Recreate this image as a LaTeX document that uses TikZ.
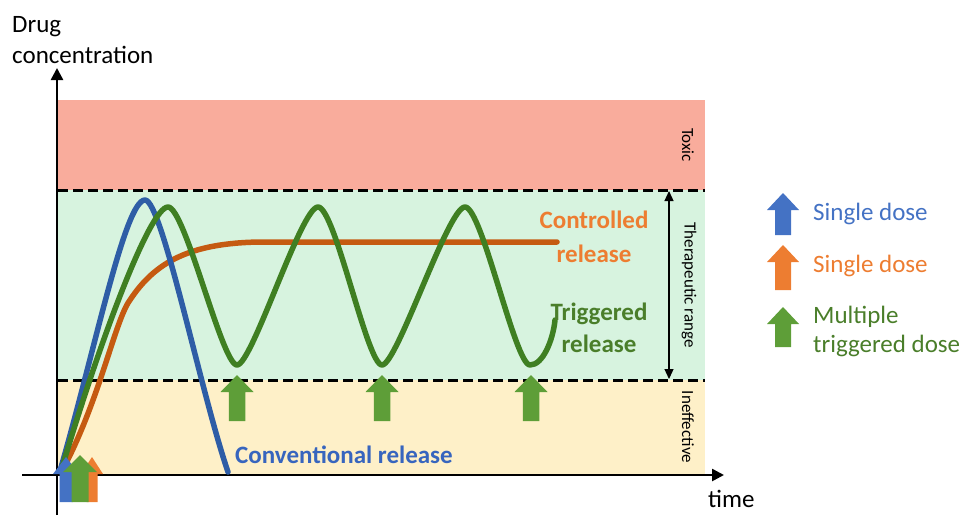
\documentclass[tikz,border=0pt]{standalone}
\usepackage{fontspec}
\setmainfont{Carlito}
\usetikzlibrary{arrows.meta}

\definecolor{toxicred}{HTML}{F9AC9C}
\definecolor{therapgreen}{HTML}{D7F3DF}
\definecolor{ineffyellow}{HTML}{FEF0C8}
\definecolor{convblue}{HTML}{2E5DA6}
\definecolor{ctrlorange}{HTML}{C55A11}
\definecolor{trigreen}{HTML}{3F7F22}
\definecolor{txtblue}{HTML}{3765BE}
\definecolor{txtorange}{HTML}{ED7D31}
\definecolor{txtgreen}{HTML}{4A7E2A}
\definecolor{legblue}{HTML}{4472C4}
\definecolor{dosegreen}{HTML}{5E9E38}

% dose arrow: centre x, tip y, bottom y, head half width, colour
\newcommand{\dosearrow}[5]{%
  \fill[#5] (#1,#2) -- ({#1+#4},{#2+17}) -- ({#1+#4/2},{#2+17}) -- ({#1+#4/2},#3)
    -- ({#1-#4/2},#3) -- ({#1-#4/2},{#2+17}) -- ({#1-#4},{#2+17}) -- cycle;}

\begin{document}
\begin{tikzpicture}[x=1pt,y=-1pt,
    limit/.style={line width=3pt,dash pattern=on 10pt off 5pt},
    curve/.style={line width=5.5pt,line cap=round,line join=round},
    big/.style={font=\fontsize{25}{33}\selectfont,inner sep=0pt},
    side/.style={font=\fontsize{17}{20}\selectfont,inner sep=0pt,rotate=-90}]
    \useasboundingbox (0,0) rectangle (968,515);

    % zones
    \fill[toxicred] (58,100) rectangle (705,190);
    \fill[therapgreen] (58,190) rectangle (705,380);
    \fill[ineffyellow] (58,380) rectangle (705,474);
    \draw[limit] (58,190) -- (705,190);
    \draw[limit] (58,380) -- (705,380);

    \node[side] (toxic) at (688,145) {Toxic};
    \node[side] (therap) at (689,285) {Therapeutic range};
    \node[side] (ineff) at (688,427) {Ineffective};
    \coordinate (thtop) at (669,191);
    \coordinate (thbot) at (669,379);
    \draw[line width=1.2pt,{Triangle[width=9pt,length=10pt]}-{Triangle[width=9pt,length=10pt]}] (thtop) -- (thbot);

    % axes
    \coordinate (orig) at (57,475);
    \coordinate (ytip) at (57,68);
    \coordinate (ybot) at (57,515);
    \coordinate (xstart) at (22,475);
    \coordinate (xtip) at (724,475);
    \draw[line width=2.5pt,-{Triangle[width=12pt,length=12pt]}] (ybot) -- (ytip);
    \draw[line width=2.5pt,-{Triangle[width=12pt,length=12pt]}] (xstart) -- (xtip);
    \node[big,anchor=base west] (ylab1) at (12,32) {Drug};
    \node[big,anchor=base west] (ylab2) at (12,63) {concentration};
    \node[big,anchor=base west] (xlab) at (708,507) {time};

    % release curves
    \draw[curve,ctrlorange] (62,471) .. controls (100,400) and (115,320) .. (130,300)
        .. controls (155,262) and (190,243) .. (260,242) -- (557,242);
    \draw[curve,convblue] (60,471) .. controls (95,350) and (125,200) .. (145,200)
        .. controls (162,200) and (200,390) .. (228,472);
    \draw[curve,trigreen] (61,471) .. controls (100,340) and (150,207) .. (168,207)
        .. controls (185,207) and (222,365) .. (237,365)
        .. controls (252,365) and (301,207) .. (318,207)
        .. controls (335,207) and (367,365) .. (382,365)
        .. controls (397,365) and (448,207) .. (465,207)
        .. controls (482,207) and (515,365) .. (530,365)
        .. controls (543,365) and (553,340) .. (555,320);

    % doses at the origin
    \dosearrow{66}{457}{502}{13}{legblue}
    \dosearrow{92}{457}{502}{11}{txtorange}
    \dosearrow{80}{455}{502}{17}{dosegreen}

    % triggered doses
    \foreach \dx in {237,382,531}
        \dosearrow{\dx}{375}{421}{16.5}{dosegreen};

    % curve labels
    \node[big,font=\fontsize{25}{34}\selectfont\bfseries,text=txtorange,align=center] (ctrl) at (594,237) {Controlled\\release};
    \node[big,font=\fontsize{25}{32}\selectfont\bfseries,text=txtgreen,align=center] (trig) at (599,328) {Triggered\\release};
    \node[big,font=\fontsize{25}{33}\selectfont\bfseries,text=txtblue,anchor=base west] (conv) at (235,463) {Conventional release};

    % legend
    \dosearrow{783}{193}{235}{16}{legblue}
    \dosearrow{783}{245}{290}{16}{txtorange}
    \dosearrow{783}{307}{347}{16}{dosegreen}
    \node[big,text=legblue,anchor=base west] (leg1) at (813,220) {Single dose};
    \node[big,text=txtorange,anchor=base west] (leg2) at (813,272) {Single dose};
    \node[big,font=\fontsize{25}{29}\selectfont,text=txtgreen,align=left,anchor=west] (leg3) at (813,331) {Multiple\\triggered dose};
\end{tikzpicture}
\end{document}
